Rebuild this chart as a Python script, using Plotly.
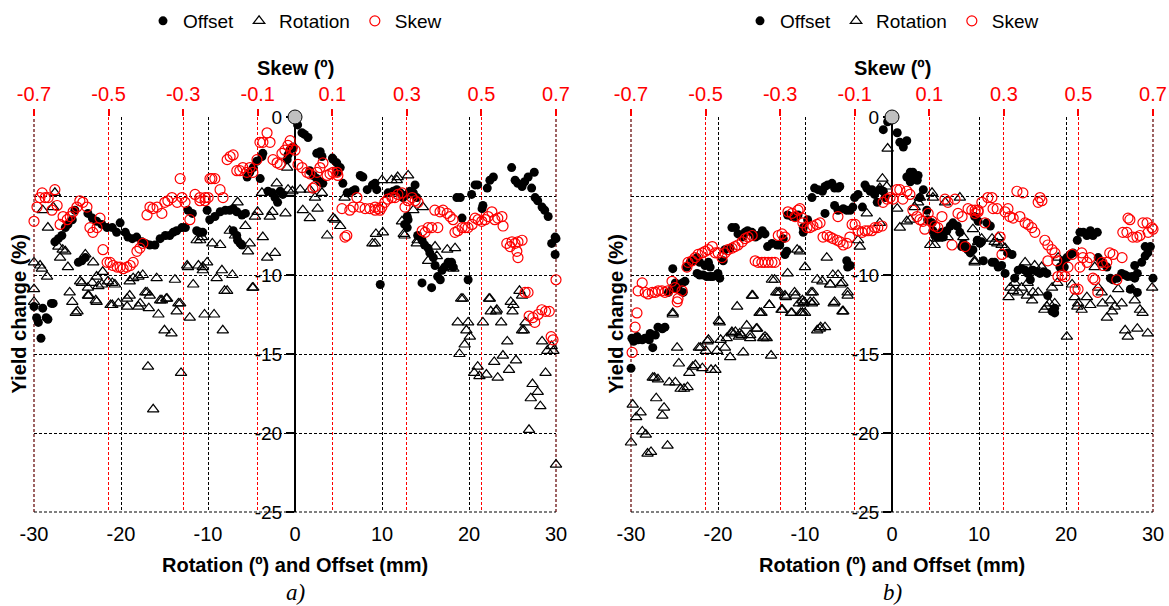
import plotly.graph_objects as go

FONT = "Liberation Sans, Arial, sans-serif"

# ---------------- DATA (panel a) ----------------
# Offset (mm) vs yield change (%)
a_offset = [
    (-30.0, -12.0), (-29.7, -12.7), (-29.5, -13.0), (-29.0, -12.1), (-28.6, -12.7), (-28.4, -12.8), (-28.0, -11.8), (-29.2, -14.0), (-27.8, -11.8),
    (-27.6, -7.9), (-27.2, -7.7), (-26.8, -7.5), (-26.4, -7.0), (-26.1, -6.8), (-25.6, -6.5), (-25.3, -5.9),
    (-24.9, -9.2), (-24.5, -9.1), (-24.1, -8.9),
    (-23.8, -6.1), (-23.3, -6.4), (-22.8, -6.6), (-22.2, -6.8), (-21.6, -7.0), (-21.0, -7.0), (-20.5, -7.3), (-20.1, -6.7),
    (-19.5, -7.3), (-19.2, -7.6), (-18.7, -7.7), (-18.2, -7.6), (-17.6, -7.9), (-17.2, -8.0), (-16.7, -8.1), (-16.1, -8.1),
    (-15.5, -7.7), (-14.9, -7.5), (-14.4, -7.5), (-14.0, -7.3), (-13.6, -7.2), (-13.0, -7.0), (-12.6, -7.0), (-12.3, -5.9),
    (-11.8, -6.1), (-11.3, -7.2), (-10.9, -7.3), (-10.6, -7.3), (-10.1, -5.9),
    (-9.8, -6.5), (-9.2, -6.3), (-8.6, -6.0), (-8.0, -5.9), (-7.5, -5.9), (-7.1, -5.8), (-6.7, -6.0), (-6.1, -6.2), (-5.7, -6.1),
    (-7.1, -7.2), (-6.7, -7.5), (-6.6, -7.8), (-6.3, -8.0), (-6.1, -8.1),
    (-5.5, -3.8), (-5.2, -3.5), (-4.8, -3.2), (-4.4, -2.8), (-4.0, -3.9), (-3.8, -2.5),
    (-3.7, -2.3), (-3.1, -4.7), (-2.6, -4.8), (-2.3, -5.1), (-2.0, -5.4), (-1.7, -4.7), (-1.4, -4.9), (-0.9, -2.7),
    (-0.8, -2.4), (-0.6, -2.1), (-0.2, -1.9),
    (0.3, -0.5), (0.8, -1.0), (1.1, -1.1), (1.5, -1.3),
    (2.5, -2.3), (2.9, -2.2), (3.1, -2.5), (4.3, -2.6), (4.4, -2.7), (4.8, -2.9), (5.2, -3.2), (4.9, -3.5),
    (1.7, -3.4), (2.1, -3.7), (2.5, -3.9), (2.9, -4.1), (3.2, -4.2),
    (5.5, -4.2), (6.0, -4.8), (6.6, -4.7), (6.9, -4.6), (7.5, -3.7), (7.8, -3.8), (8.3, -4.6), (8.9, -4.3), (9.2, -4.2),
    (9.8, -10.6), (9.4, -4.6),
    (10.7, -4.8), (11.3, -4.7), (11.7, -4.6), (12.1, -4.8), (12.4, -5.1), (12.9, -4.9), (13.2, -4.7), (13.6, -4.8), (13.8, -4.3), (14.0, -5.1),
    (12.9, -6.3), (13.0, -6.5), (12.6, -6.8), (12.9, -7.0),
    (14.1, -7.5), (14.6, -7.8), (14.9, -8.1), (15.3, -8.3), (15.5, -8.6), (15.9, -8.9), (16.1, -9.4), (16.4, -10.1), (16.7, -10.3),
    (16.9, -9.7), (17.2, -9.5), (17.6, -9.2), (18.0, -9.2), (18.2, -9.5),
    (14.6, -10.5), (15.7, -10.8),
    (18.6, -5.1), (19.0, -5.1), (19.2, -6.4), (19.9, -10.3),
    (20.3, -4.9), (20.7, -4.3), (21.0, -4.3), (21.5, -5.8), (21.6, -5.6), (22.1, -4.5), (22.4, -4.0), (22.8, -3.8),
    (24.9, -3.2), (25.3, -4.0), (25.6, -4.2), (26.1, -4.4), (26.4, -4.1), (26.8, -3.8), (27.2, -4.5), (27.5, -3.5),
    (27.6, -5.1), (27.9, -5.3), (28.4, -5.7), (28.7, -5.9), (29.1, -6.3), (29.5, -8.0), (29.9, -7.6), (29.9, -8.7), (30.0, -7.7),
]

# Rotation (deg) vs yield change (%)
a_rotation = [
    (-27.6, -4.8), (-29.0, -5.9), (-28.4, -7.0), (-27.8, -5.7),
    (-27.2, -8.2), (-26.7, -8.4), (-27.0, -8.9), (-26.4, -8.5),
    (-30.0, -9.2), (-29.3, -9.4), (-29.1, -9.6), (-28.5, -10.1), (-26.1, -9.5),
    (-30.0, -11.7), (-30.0, -10.9),
    (-25.9, -11.1), (-25.6, -11.7), (-24.7, -10.4), (-24.5, -10.5), (-24.1, -8.7), (-23.8, -10.8), (-23.3, -10.5), (-23.2, -9.2),
    (-22.8, -10.1), (-22.6, -10.7), (-22.2, -10.6), (-22.1, -9.8), (-21.5, -10.4), (-21.0, -10.5), (-20.7, -10.6), (-23.8, -11.3),
    (-22.8, -11.7), (-20.3, -11.8), (-21.0, -11.9),
    (-19.0, -10.4), (-18.6, -10.2), (-18.0, -10.1), (-17.5, -10.0), (-17.0, -11.1), (-15.9, -10.2), (-13.8, -10.3), (-12.4, -9.4),
    (-12.3, -9.5), (-11.7, -10.6), (-11.3, -7.8), (-11.1, -9.4), (-10.7, -7.6), (-10.6, -9.7), (-19.0, -11.3), (-17.8, -11.8),
    (-16.7, -11.3), (-15.3, -11.6), (-14.7, -11.5), (-13.2, -11.8),
    (-10.9, -7.8), (-10.6, -9.5), (-10.1, -9.2), (-9.5, -8.0), (-9.0, -10.2), (-8.6, -8.1), (-8.4, -9.7), (-7.8, -11.0),
    (-7.2, -10.0), (-7.5, -7.2), (-6.9, -7.5), (-6.6, -5.4), (-5.7, -6.9), (-5.2, -8.0), (-5.4, -8.5), (-4.8, -10.8),
    (-4.6, -6.3), (-4.3, -6.0), (-3.8, -4.8), (-3.7, -7.6), (-3.2, -8.9), (-2.9, -6.3), (-2.6, -6.0), (-2.3, -8.6),
    (-2.1, -4.2), (-1.1, -6.1), (-0.9, -3.2), (-0.8, -4.6), (-0.3, -4.7), (0.6, -4.6), (0.9, -5.9), (1.7, -4.6),
    (2.3, -5.1), (2.6, -5.8), (3.1, -4.8), (3.7, -7.5), (4.6, -6.5), (5.2, -6.9), (5.7, -5.1),
    (1.7, -6.4), (4.4, -6.4), (8.9, -8.0), (9.3, -7.4), (10.0, -4.0), (12.5, -7.4), (14.0, -8.0), (17.6, -9.5),
    (11.1, -4.0), (11.7, -4.0), (11.8, -3.8), (13.0, -3.7), (12.3, -6.6), (12.6, -7.5), (10.1, -7.3), (9.2, -8.0),
    (13.6, -5.9), (14.7, -5.7), (14.1, -7.8), (15.3, -9.1), (16.1, -8.2), (16.3, -8.8), (17.5, -8.4), (18.4, -8.3),
    (18.2, -9.6), (19.3, -11.5), (22.4, -11.5), (25.1, -11.9), (26.1, -11.3), (23.2, -12.2),
    (-25.2, -12.4), (-25.0, -12.3), (-23.7, -11.3), (-22.9, -11.6), (-21.2, -11.9), (-19.3, -11.5), (-19.3, -12.0),
    (-18.0, -12.0), (-17.2, -11.1), (-16.8, -12.1), (-15.7, -12.5), (-15.5, -11.6), (-14.8, -11.5), (-15.0, -13.5),
    (-14.2, -13.7), (-13.6, -12.3), (-13.4, -11.8), (-12.1, -12.7), (-10.4, -12.5), (-9.3, -12.5), (-8.3, -13.5),
    (-8.1, -11.0), (-4.9, -10.8), (-16.9, -15.8), (-16.3, -18.5), (-13.1, -16.2),
    (19.1, -11.5), (18.7, -13.0), (18.9, -15.0), (19.5, -14.4), (19.7, -13.5), (19.9, -13.0), (20.1, -13.9), (20.6, -16.2),
    (21.0, -15.8), (21.2, -16.4), (21.6, -13.0), (22.0, -16.3), (22.3, -11.5), (22.5, -12.3), (22.9, -15.5), (23.3, -16.5),
    (23.1, -12.3), (23.7, -13.0), (23.9, -15.1), (24.4, -14.2), (24.6, -16.0), (24.8, -11.7), (25.0, -12.3), (25.4, -15.4),
    (25.8, -11.0), (26.1, -13.5), (26.3, -13.5), (26.5, -13.0), (27.1, -17.8), (27.3, -16.9), (27.9, -17.4), (28.2, -18.3),
    (28.4, -14.2), (28.8, -16.2), (29.0, -14.8), (29.5, -14.5), (29.7, -14.8), (30.0, -22.0), (26.9, -19.8),
]

# Skew (deg) vs yield change (%)
a_skew = [
    (-0.700, -6.6), (-0.692, -5.7), (-0.684, -5.1), (-0.678, -4.8), (-0.670, -5.1), (-0.662, -5.1), (-0.652, -5.9), (-0.644, -4.6), (-0.638, -5.6),
    (-0.630, -6.8), (-0.622, -6.3), (-0.611, -6.5), (-0.603, -6.3), (-0.595, -6.0), (-0.585, -5.7), (-0.577, -5.3), (-0.569, -5.4),
    (-0.558, -5.7), (-0.550, -7.0), (-0.542, -7.3), (-0.531, -7.0), (-0.523, -6.4), (-0.515, -8.4), (-0.504, -9.2), (-0.496, -9.2),
    (-0.488, -9.4), (-0.477, -9.5), (-0.469, -9.5), (-0.461, -9.6), (-0.451, -9.5), (-0.442, -9.4), (-0.434, -9.2), (-0.424, -8.5),
    (-0.416, -8.3), (-0.408, -8.0), (-0.397, -6.2), (-0.389, -5.7), (-0.381, -5.8), (-0.370, -5.7), (-0.357, -6.1), (-0.349, -5.4),
    (-0.341, -5.3), (-0.330, -5.1), (-0.316, -5.4), (-0.308, -3.9), (-0.303, -5.1), (-0.295, -5.4), (-0.282, -6.5), (-0.268, -4.9),
    (-0.255, -5.1), (-0.241, -5.3), (-0.228, -3.9),
    (-0.255, -5.3), (-0.241, -5.1), (-0.233, -5.1), (-0.223, -3.9), (-0.215, -3.9), (-0.201, -4.6), (-0.193, -5.1), (-0.182, -2.7),
    (-0.174, -2.5), (-0.166, -2.4), (-0.156, -3.4), (-0.148, -3.4), (-0.140, -3.2), (-0.129, -3.5), (-0.121, -3.2), (-0.113, -3.5),
    (-0.102, -2.7), (-0.094, -1.6), (-0.086, -1.6), (-0.075, -1.0), (-0.067, -1.6), (-0.059, -2.7), (-0.048, -2.9), (-0.040, -3.0),
    (-0.035, -2.3), (-0.027, -2.1), (-0.019, -1.8), (-0.013, -1.5), (-0.008, -2.0), (0.000, -2.1), (0.008, -3.0), (0.019, -3.2),
    (0.032, -3.5), (0.040, -3.6), (0.048, -4.5), (0.054, -4.4), (0.059, -3.5), (0.067, -3.2), (0.075, -2.9), (0.086, -3.7),
    (0.094, -3.6), (0.102, -3.5), (0.113, -3.5), (0.115, -3.7), (0.126, -5.8), (0.134, -7.6), (0.139, -7.5), (0.147, -5.9),
    (0.156, -5.7), (0.166, -5.1), (0.174, -5.7), (0.188, -5.8), (0.201, -5.8), (0.215, -5.9), (0.228, -5.9),
    (0.215, -5.7), (0.223, -5.8), (0.233, -5.7), (0.241, -5.4), (0.249, -5.2), (0.260, -5.1), (0.268, -5.1), (0.276, -4.9),
    (0.287, -4.8), (0.295, -5.7), (0.303, -5.3), (0.314, -5.1), (0.322, -5.3), (0.330, -5.4), (0.341, -7.2), (0.349, -7.3),
    (0.357, -7.0), (0.367, -7.0), (0.375, -5.9), (0.383, -7.0), (0.389, -6.0), (0.397, -5.9), (0.408, -6.1), (0.416, -6.3),
    (0.424, -6.5), (0.429, -7.3), (0.437, -7.2), (0.448, -7.0), (0.456, -7.0), (0.464, -7.0), (0.475, -6.8), (0.483, -6.4),
    (0.491, -6.5), (0.501, -6.6), (0.510, -6.5), (0.518, -6.3), (0.528, -6.0), (0.536, -6.5), (0.544, -6.4), (0.555, -6.3),
    (0.558, -6.9), (0.568, -8.0), (0.577, -8.2), (0.582, -7.9), (0.590, -8.0), (0.598, -7.9), (0.609, -7.8), (0.595, -8.5),
    (0.598, -8.9), (0.617, -11.1), (0.625, -11.1), (0.662, -12.2),
    (0.628, -12.6), (0.638, -12.7), (0.643, -13.0), (0.652, -12.5), (0.672, -12.3), (0.682, -12.3), (0.687, -13.9),
    (0.692, -14.1), (0.700, -10.3),
]

# ---------------- DATA (panel b) ----------------
b_offset = [
    (-30.0, -15.9), (-29.7, -14.2), (-29.2, -14.1), (-28.7, -14.1), (-28.4, -14.0), (-27.9, -14.1), (-27.5, -14.6), (-27.2, -13.8),
    (-26.9, -13.3), (-26.4, -13.4), (-29.9, -14.0), (-29.3, -13.9), (-27.8, -13.7), (-26.1, -13.3),
    (-25.7, -11.1), (-25.2, -10.8), (-24.9, -10.5), (-24.6, -10.9), (-24.1, -10.5), (-24.0, -11.1), (-23.8, -10.4), (-25.2, -9.6),
    (-23.6, -9.5), (-23.2, -9.2), (-22.9, -9.1), (-22.4, -8.9), (-22.1, -9.2), (-21.5, -9.4), (-21.1, -9.2), (-20.9, -9.5),
    (-22.4, -9.9), (-22.1, -10.0), (-21.7, -10.0), (-21.3, -10.1), (-20.9, -10.1), (-20.6, -10.1), (-20.1, -10.0), (-19.8, -10.2), (-20.0, -9.9),
    (-19.4, -9.1), (-19.2, -8.4), (-18.6, -8.3), (-18.4, -7.0), (-18.0, -7.0), (-17.7, -7.4), (-17.2, -7.6), (-16.9, -7.3),
    (-16.6, -7.2), (-16.1, -7.3), (-15.7, -7.6), (-15.4, -7.5), (-14.9, -7.2), (-14.6, -7.4), (-14.3, -8.2), (-13.8, -8.0),
    (-13.2, -8.1), (-12.9, -8.1), (-12.5, -7.7), (-12.1, -8.5), (-12.3, -8.7), (-12.0, -6.2), (-11.5, -6.3), (-11.1, -6.3),
    (-10.8, -6.2), (-10.2, -7.0),
    (-10.2, -7.3), (-9.7, -6.5), (-9.2, -5.1), (-8.9, -4.5), (-8.5, -4.6), (-8.0, -4.7), (-7.7, -4.4), (-7.4, -4.3),
    (-6.9, -4.2), (-6.6, -4.5), (-6.2, -4.5), (-6.0, -4.4), (-7.7, -6.1), (-6.6, -5.6), (-6.2, -5.9), (-5.6, -5.8),
    (-5.2, -5.9), (-4.8, -5.9), (-4.5, -5.7), (-4.3, -5.1), (-3.9, -4.9), (-3.4, -5.7), (-3.1, -4.3), (-2.9, -4.5),
    (-2.5, -4.7), (-2.3, -4.6), (-2.0, -4.9), (-1.7, -5.4), (-1.4, -4.6), (-1.0, -4.7), (-0.8, -5.1), (-5.2, -9.1),
    (-5.1, -9.5), (-4.8, -9.4),
    (-1.0, -0.8), (-0.5, -0.3), (0.6, -1.0), (0.9, -1.6), (1.3, -1.9), (1.7, -1.5),
    (1.7, -3.8), (2.1, -3.5), (2.4, -3.5), (2.9, -4.0), (3.0, -3.7), (3.2, -5.1), (3.6, -4.6), (2.1, -4.1), (2.6, -3.9),
    (4.0, -5.9), (4.1, -6.5), (4.6, -6.7), (4.7, -7.2), (4.9, -7.5), (5.3, -7.6), (5.7, -7.3), (5.9, -7.6),
    (6.3, -7.2), (6.7, -6.9), (7.0, -6.7), (7.5, -6.9), (7.8, -7.3), (8.0, -8.2), (8.2, -8.0), (8.6, -8.2),
    (8.7, -8.4), (9.0, -8.6), (9.3, -8.4), (9.8, -7.8), (10.1, -8.0),
    (9.5, -6.3), (9.9, -6.6), (10.3, -7.9), (10.5, -9.1), (10.9, -6.7), (11.3, -6.9), (11.5, -9.2), (11.8, -9.2),
    (12.2, -9.5), (12.6, -9.4), (13.0, -9.9), (13.3, -8.6), (13.8, -8.7), (14.1, -10.2), (14.5, -9.7), (14.9, -9.6),
    (15.3, -9.7), (15.6, -9.9), (15.9, -10.3), (16.2, -9.7), (16.7, -9.8), (17.0, -9.9), (17.4, -9.8), (17.8, -9.9),
    (17.9, -11.3), (18.4, -12.3), (18.7, -12.4), (19.3, -9.5), (19.7, -9.1), (20.1, -8.9), (20.5, -8.7), (20.8, -8.6),
    (21.3, -7.8), (21.6, -7.3), (22.0, -7.3), (22.4, -7.5), (22.8, -7.2), (23.1, -7.5), (23.6, -7.3), (23.7, -8.9),
    (24.1, -9.2), (24.7, -9.5), (25.1, -10.2), (25.4, -10.3), (25.9, -10.2), (26.4, -9.9), (26.8, -10.0), (27.1, -10.1),
    (27.6, -10.1), (27.9, -10.2), (28.2, -9.9), (27.4, -10.9), (28.2, -11.1), (27.9, -9.4), (28.7, -9.2), (29.1, -8.8),
    (29.4, -8.6), (29.7, -8.2), (29.1, -8.2), (30.0, -10.2), (18.7, -12.1), (19.8, -9.5),
]

b_rotation = [
    (-29.8, -18.2), (-29.4, -19.0), (-28.9, -18.7), (-28.7, -19.9), (-28.3, -20.1), (-28.1, -21.3), (-27.7, -21.2), (-30.0, -20.6),
    (-27.5, -16.5), (-27.3, -16.5), (-26.9, -16.6), (-27.1, -17.8), (-26.4, -18.9), (-26.2, -18.4), (-25.8, -20.8), (-25.6, -16.8),
    (-24.9, -16.8), (-25.2, -12.5), (-24.7, -14.6), (-24.5, -15.6), (-24.3, -17.2), (-23.9, -17.2), (-23.5, -17.1), (-23.3, -16.2),
    (-22.9, -15.8), (-22.6, -15.7), (-22.2, -14.6), (-22.0, -14.6), (-21.8, -15.9), (-21.4, -14.8), (-21.2, -14.2), (-20.8, -16.0),
    (-20.3, -16.0), (-20.1, -14.8), (-19.9, -12.9), (-19.7, -14.1), (-19.2, -14.6), (-19.0, -14.0), (-18.6, -15.2), (-18.4, -13.7),
    (-18.0, -13.6), (-17.8, -12.0), (-17.6, -13.9), (-17.3, -13.8), (-17.1, -14.9), (-16.7, -13.2), (-16.3, -13.8), (-16.1, -11.3),
    (-15.6, -13.4), (-15.2, -12.4), (-15.0, -12.4), (-14.8, -14.0), (-14.6, -13.9), (-14.1, -11.9), (-13.9, -15.1), (-13.5, -10.3),
    (-13.3, -11.1), (-12.9, -11.1), (-12.7, -12.2), (-12.2, -11.4), (-11.6, -12.4), (-11.2, -11.1), (-10.5, -12.4), (-10.3, -11.6),
    (-10.1, -11.7), (-9.3, -11.1), (-9.0, -11.7), (-8.6, -13.5), (-8.2, -13.3), (-7.1, -10.6), (-6.7, -11.8), (-5.9, -10.6),
    (-5.7, -12.3), (-5.1, -11.3),
    (-25.2, -12.4), (-19.8, -13.0), (-16.0, -11.3), (-15.2, -12.4), (-13.8, -10.3), (-14.1, -11.9), (-13.1, -11.1), (-12.3, -11.3),
    (-12.0, -9.9), (-10.9, -8.4), (-11.1, -11.3), (-10.7, -11.8), (-12.6, -12.2), (-11.5, -12.4), (-10.3, -12.4), (-18.4, -13.6),
    (-17.5, -13.7), (-16.3, -14.0), (-15.5, -13.4), (-14.4, -14.0), (-21.1, -14.1),
    (-10.0, -9.5), (-10.6, -8.5), (-8.6, -10.3), (-8.0, -10.4), (-7.5, -8.9), (-7.1, -10.6), (-6.8, -10.0), (-6.2, -10.0),
    (-5.7, -10.5), (-9.1, -11.1), (-9.4, -11.7), (-9.2, -11.8), (-10.2, -11.8), (-10.3, -12.4), (-6.6, -11.7), (-5.6, -12.3),
    (-5.1, -11.1), (-8.3, -13.4), (-7.7, -13.3), (-3.7, -8.2), (-3.9, -7.8), (-2.9, -6.1), (-1.4, -6.7), (-1.1, -3.9),
    (-0.6, -4.4), (-0.5, -2.0), (-1.4, -4.5), (0.6, -5.8), (0.9, -7.0), (1.7, -6.6), (2.1, -6.5), (2.6, -5.7),
    (3.0, -5.4), (3.2, -5.1), (4.6, -4.8), (4.7, -5.1), (4.4, -8.1), (4.9, -8.1), (5.2, -7.7), (6.1, -5.4),
    (6.4, -7.6), (7.8, -5.1), (8.2, -7.6), (9.3, -7.1), (9.5, -9.2), (-10.0, -12.4),
    (9.5, -9.1), (9.9, -7.9), (10.3, -7.7), (11.5, -7.7), (11.8, -7.9), (12.1, -8.0), (12.2, -7.6), (12.6, -8.1),
    (13.0, -8.3), (13.4, -11.4), (13.6, -10.8), (13.9, -11.0), (14.1, -10.5), (14.5, -11.1), (14.9, -10.8), (15.3, -9.2),
    (15.5, -11.3), (15.6, -10.5), (16.1, -11.6), (16.4, -9.4), (16.2, -11.1), (16.8, -11.1), (17.2, -9.5), (17.5, -12.2),
    (17.8, -12.0), (18.1, -11.8), (18.4, -10.8), (18.7, -11.8), (19.0, -10.5), (19.1, -8.9), (20.1, -13.9), (20.7, -10.6),
    (21.0, -11.4), (21.3, -12.0), (21.4, -11.8), (21.8, -12.2), (22.4, -11.4), (22.8, -11.9), (23.3, -9.5), (23.7, -10.8),
    (24.1, -11.1), (24.2, -11.8), (24.7, -12.7), (25.1, -11.6), (25.3, -12.3), (25.6, -12.0), (26.0, -10.9), (26.4, -11.8),
    (26.8, -13.5), (27.1, -13.9), (27.6, -10.9), (27.9, -11.6), (28.2, -13.4), (28.5, -12.2), (28.8, -12.4), (29.4, -13.7),
    (29.9, -10.8),
]

b_skew = [
    (-0.697, -14.9),
    (-0.689, -13.3), (-0.684, -12.4), (-0.681, -11.0), (-0.670, -10.5), (-0.662, -11.1), (-0.654, -11.2), (-0.643, -11.1), (-0.635, -11.1),
    (-0.627, -11.0), (-0.617, -11.0), (-0.609, -11.1), (-0.601, -11.0), (-0.590, -10.4), (-0.582, -10.8), (-0.576, -11.7), (-0.574, -11.5),
    (-0.563, -11.0), (-0.550, -9.5), (-0.547, -9.2), (-0.536, -9.1), (-0.528, -8.9), (-0.520, -8.7), (-0.509, -8.6), (-0.501, -8.5),
    (-0.493, -8.4), (-0.482, -8.2), (-0.474, -8.6), (-0.466, -8.6), (-0.456, -8.9), (-0.448, -8.6), (-0.440, -8.4), (-0.429, -8.3),
    (-0.421, -8.2), (-0.413, -8.1), (-0.402, -7.9), (-0.394, -7.7), (-0.386, -7.6), (-0.375, -7.5), (-0.367, -9.1), (-0.359, -9.2),
    (-0.349, -9.2), (-0.341, -9.2), (-0.332, -9.2), (-0.322, -9.2), (-0.314, -9.2), (-0.305, -7.5), (-0.295, -7.4), (-0.287, -7.6),
    (-0.279, -6.0), (-0.268, -6.1), (-0.260, -6.3), (-0.252, -5.9), (-0.241, -6.4),
    (-0.247, -5.8), (-0.239, -6.7), (-0.228, -7.0), (-0.220, -7.0), (-0.212, -6.9), (-0.201, -6.8), (-0.193, -6.7), (-0.185, -7.6),
    (-0.174, -7.5), (-0.166, -7.6), (-0.158, -7.7), (-0.147, -7.8), (-0.145, -6.3), (-0.139, -7.9), (-0.131, -8.1), (-0.121, -8.0),
    (-0.113, -7.6), (-0.107, -6.8), (-0.099, -6.8), (-0.091, -7.2), (-0.080, -7.3), (-0.072, -7.2), (-0.064, -7.2), (-0.054, -7.2),
    (-0.046, -7.0), (-0.038, -7.0), (-0.027, -6.9), (-0.024, -5.4), (-0.013, -5.2), (-0.005, -5.1), (0.003, -5.2), (0.013, -4.6),
    (0.021, -4.6), (0.029, -5.2), (0.040, -4.7), (0.048, -4.9), (0.056, -5.9), (0.067, -6.3), (0.075, -6.5), (0.083, -6.6),
    (0.088, -7.1), (0.097, -6.1), (0.107, -6.6), (0.115, -6.9), (0.123, -7.0), (0.134, -6.3), (0.142, -5.2), (0.150, -5.4),
    (0.161, -8.1), (0.169, -5.2), (0.177, -6.1), (0.188, -6.3), (0.196, -8.2), (0.204, -5.8), (0.214, -5.9), (0.223, -6.1),
    (0.231, -5.9),
    (0.223, -5.9), (0.231, -6.0), (0.241, -5.4), (0.249, -6.7), (0.257, -5.1), (0.268, -5.1), (0.271, -5.8), (0.282, -5.8),
    (0.290, -7.6), (0.295, -8.7), (0.303, -6.0), (0.311, -5.8), (0.316, -6.3), (0.325, -6.4), (0.335, -4.7), (0.343, -6.3),
    (0.351, -4.8), (0.357, -6.7), (0.365, -6.8), (0.375, -7.0), (0.383, -7.3), (0.392, -5.4), (0.402, -5.3), (0.397, -5.1),
    (0.410, -7.8), (0.418, -8.1), (0.429, -8.4), (0.418, -9.1), (0.437, -8.6), (0.442, -9.1), (0.445, -10.1), (0.456, -10.0),
    (0.464, -10.1), (0.472, -9.5), (0.483, -8.7), (0.491, -10.9), (0.499, -10.9), (0.504, -9.5), (0.509, -8.6), (0.512, -8.9),
    (0.523, -9.2), (0.531, -8.9), (0.539, -10.2), (0.544, -10.3), (0.552, -11.1), (0.563, -9.2), (0.566, -9.4), (0.576, -9.2),
    (0.584, -8.6), (0.593, -8.7), (0.603, -10.3), (0.617, -8.9), (0.619, -7.3), (0.630, -7.3), (0.633, -6.4), (0.638, -6.5),
    (0.646, -7.6), (0.657, -7.6), (0.665, -7.5), (0.673, -6.7), (0.684, -6.7), (0.687, -7.3), (0.697, -7.0), (0.700, -7.1),
]

rot_ticks = [-30, -20, -10, 0, 10, 20, 30]
rot_labels = ["-30", "-20", "-10", "0", "10", "20", "30"]
skew_ticks = [-0.7, -0.5, -0.3, -0.1, 0.1, 0.3, 0.5, 0.7]
skew_labels = ["-0.7", "-0.5", "-0.3", "-0.1", "0.1", "0.3", "0.5", "0.7"]
y_ticks = [0, -5, -10, -15, -20, -25]
y_labels = ["0", "", "-10", "-15", "-20", "-25"]
legend_names = ["Offset", "Rotation", "Skew"]

# ---------------- LAYOUT HELPERS ----------------
W, H = 1169, 606
def fx(px):
    return px / W
def fy(py):
    return 1 - py / H

PLOT_TOP, PLOT_BOTTOM = 117, 512
RED = "#ff0000"
GRID_DASH = "3px,2px"

panels = [
    dict(x0=34, x1=556, off=a_offset, rot=a_rotation, skew=a_skew, legend="legend", label="a)",
         ax=1, yax=1, topcolor="#2a0000"),
    dict(x0=631, x1=1153, off=b_offset, rot=b_rotation, skew=b_skew, legend="legend2", label="b)",
         ax=6, yax=2, topcolor="#000000"),
]

fig = go.Figure()
layout = {}
annotations = []
shapes = []

def axname(n):
    return "xaxis" if n == 1 else f"xaxis{n}"
def axref(n):
    return "x" if n == 1 else f"x{n}"
def yname(n):
    return "yaxis" if n == 1 else f"yaxis{n}"
def yref(n):
    return "y" if n == 1 else f"y{n}"

for p in panels:
    dom = [fx(p["x0"]), fx(p["x1"])]
    ydom = [fy(PLOT_BOTTOM), fy(PLOT_TOP)]
    b = p["ax"]
    xr, x2r = axref(b), axref(b + 1)
    yr = yref(p["yax"])

    # bottom rotation/offset axis
    layout[axname(b)] = dict(
        domain=dom, range=[-30, 30], anchor=yr, side="bottom", automargin=False,
        tickmode="array", tickvals=rot_ticks, ticktext=rot_labels, ticks="", showline=False, zeroline=False,
        showgrid=True, gridcolor="black", gridwidth=1, griddash=GRID_DASH,
        tickfont=dict(family=FONT, size=20, color="black"), ticklabelstandoff=8,
        layer="below traces",
    )
    # top skew axis with red labels / grid, ticks outside
    layout[axname(b + 1)] = dict(
        overlaying=xr, range=[-0.7, 0.7], anchor=yr, side="top", automargin=False,
        tickmode="array", tickvals=skew_ticks, ticktext=skew_labels,
        ticks="outside", ticklen=7, tickwidth=2, tickcolor=RED,
        showgrid=True, gridcolor=RED, gridwidth=1, griddash=GRID_DASH,
        zeroline=False, showline=False,
        tickfont=dict(family=FONT, size=20, color=RED), layer="below traces",
    )
    # red ticks inside
    layout[axname(b + 2)] = dict(
        overlaying=xr, range=[-0.7, 0.7], anchor=yr, side="top", automargin=False,
        tickmode="array", tickvals=skew_ticks, showticklabels=False,
        ticks="inside", ticklen=7, tickwidth=2, tickcolor=RED,
        showgrid=False, zeroline=False, showline=False, layer="below traces",
    )
    # black top line with inside ticks
    layout[axname(b + 3)] = dict(
        overlaying=xr, range=[-30, 30], anchor=yr, side="top", automargin=False,
        tickmode="array", tickvals=rot_ticks, showticklabels=False,
        ticks="inside", ticklen=7, tickwidth=2, tickcolor="black",
        showgrid=False, zeroline=False, showline=True, linecolor=p["topcolor"], linewidth=2,
        layer="below traces",
    )
    # black ticks outside
    layout[axname(b + 4)] = dict(
        overlaying=xr, range=[-30, 30], anchor=yr, side="top", automargin=False,
        tickmode="array", tickvals=rot_ticks, showticklabels=False,
        ticks="outside", ticklen=7, tickwidth=2, tickcolor="black",
        showgrid=False, zeroline=False, showline=False, layer="below traces",
    )
    # y axis drawn at x = 0 (middle of the domain)
    layout[yname(p["yax"])] = dict(
        domain=ydom, range=[-25, 0], anchor="free", position=(dom[0] + dom[1]) / 2, automargin=False,
        tickmode="array", tickvals=y_ticks, ticktext=y_labels,
        ticks="outside", ticklen=8, tickwidth=2, tickcolor="black",
        showline=True, linecolor="black", linewidth=2,
        showgrid=True, gridcolor="black", gridwidth=1, griddash=GRID_DASH,
        zeroline=False, tickfont=dict(family=FONT, size=19, color="black"),
        layer="below traces",
    )

    # dashed frame on the left, right and bottom edges of the plot area
    xd, yd = xr + " domain", yr + " domain"
    frame_dash = "3px,2px"
    shapes += [
        dict(type="line", xref=xd, yref=yd, x0=0, x1=0, y0=0, y1=1, layer="below",
             line=dict(color="#6b1010", width=1.3, dash=frame_dash)),
        dict(type="line", xref=xd, yref=yd, x0=1, x1=1, y0=0, y1=1, layer="below",
             line=dict(color="#6b1010", width=1.3, dash=frame_dash)),
        dict(type="line", xref=xd, yref=yd, x0=0, x1=1, y0=0, y1=0, layer="below",
             line=dict(color="black", width=1, dash=frame_dash)),
    ]

    # traces
    fig.add_trace(go.Scatter(
        x=[v[0] for v in p["off"]], y=[v[1] for v in p["off"]], mode="markers", name=legend_names[0],
        marker=dict(symbol="circle", size=9, color="black"), xaxis=xr, yaxis=yr,
        legend=p["legend"], cliponaxis=False,
    ))
    fig.add_trace(go.Scatter(
        x=[v[0] for v in p["rot"]], y=[v[1] for v in p["rot"]], mode="markers", name=legend_names[1],
        marker=dict(symbol="triangle-up-open", size=10, color="black", line=dict(width=1.2)),
        xaxis=xr, yaxis=yr, legend=p["legend"], cliponaxis=False,
    ))
    fig.add_trace(go.Scatter(
        x=[v[0] for v in p["skew"]], y=[v[1] for v in p["skew"]], mode="markers", name=legend_names[2],
        marker=dict(symbol="circle-open", size=10, color=RED, line=dict(width=1.2)),
        xaxis=x2r, yaxis=yr, legend=p["legend"], cliponaxis=False,
    ))
    fig.add_trace(go.Scatter(
        x=[0], y=[0], mode="markers", showlegend=False, hoverinfo="skip",
        marker=dict(size=14, color="#c0c0c0", line=dict(color="black", width=1)),
        xaxis=xr, yaxis=yr, cliponaxis=False,
    ))

    cx = fx((p["x0"] + p["x1"]) / 2)
    layout[p["legend"]] = dict(
        orientation="h", x=cx, xanchor="center", y=fy(21), yanchor="middle",
        font=dict(family=FONT, size=19, color="black"), bgcolor="rgba(0,0,0,0)",
        itemwidth=30, tracegroupgap=0,
    )
    annotations += [
        dict(text="<b>Skew (º)</b>", x=cx, y=fy(68), xref="paper", yref="paper", showarrow=False,
             font=dict(family=FONT, size=20, color="black"), xanchor="center", yanchor="middle"),
        dict(text="<b>Rotation (º) and Offset (mm)</b>", x=cx, y=fy(565), xref="paper", yref="paper",
             showarrow=False, font=dict(family=FONT, size=20, color="black"), xanchor="center", yanchor="middle"),
        dict(text="<i>" + p["label"] + "</i>", x=cx, y=fy(592), xref="paper", yref="paper", showarrow=False,
             font=dict(family="Liberation Serif, Times New Roman, serif", size=23, color="black"),
             xanchor="center", yanchor="middle"),
        dict(text="<b>Yield change (%)</b>", x=fx(p["x0"] - 16), y=fy((PLOT_TOP + PLOT_BOTTOM) / 2),
             xref="paper", yref="paper", showarrow=False, textangle=-90,
             font=dict(family=FONT, size=20, color="black"), xanchor="center", yanchor="middle"),
    ]

fig.update_layout(
    template="none",
    width=W, height=H, autosize=False,
    margin=dict(l=0, r=0, t=0, b=0, autoexpand=False),
    paper_bgcolor="white", plot_bgcolor="white",
    font=dict(family=FONT, color="black"),
    annotations=annotations,
    shapes=shapes,
    **layout,
)

# remove the default page margin so the figure sits at the window's top-left corner
fig.write_html("out.html", config={"displayModeBar": False},
               post_script="document.body.style.margin='0px';")
